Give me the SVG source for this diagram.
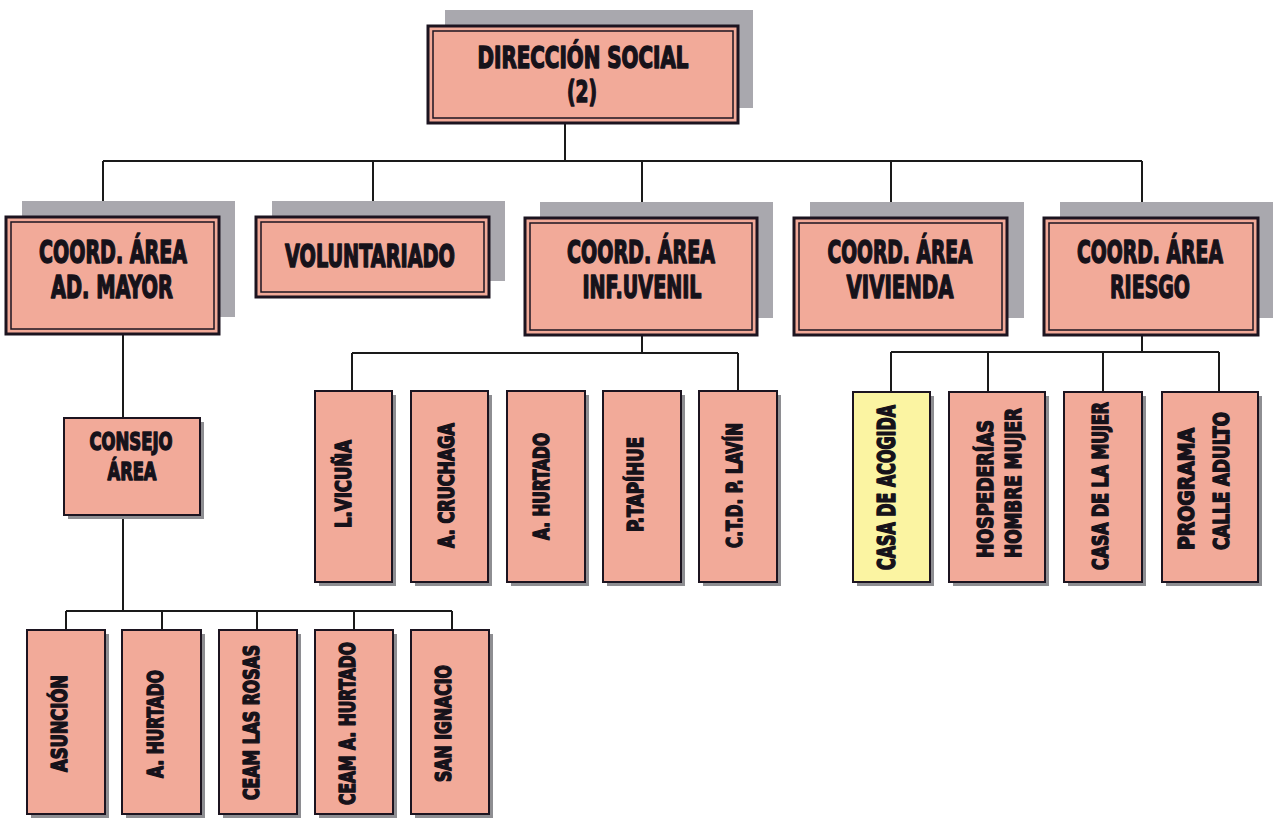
<svg xmlns="http://www.w3.org/2000/svg" width="1275" height="818" viewBox="0 0 1275 818">
<style>
.bg{fill:#ffffff}
.sh{fill:#a9a8ae}
.ssh{fill:#8e8e92}
.pk{fill:#f2aa99}
.yl{fill:#fbf4a2}
.ob{fill:none;stroke:#1c1420;stroke-width:3}
.ib{fill:none;stroke:#1c1420;stroke-width:1.5}
.sb{stroke:#1c1420;stroke-width:2}
.t{font-family:"Liberation Sans Narrow","DejaVu Sans Condensed","DejaVu Sans",sans-serif;font-weight:bold;fill:#16121a;stroke:#16121a;stroke-width:1.5;stroke-linejoin:round;text-anchor:middle}
.h1{font-size:30px}
.h2{font-size:32px}
.h3{font-size:25px}
.v{font-size:22px}
.vb{font-size:24px}
.vs{text-anchor:start}
.c{fill:none;stroke:#1a1a1a;stroke-width:2}
</style>
<rect class="bg" x="0" y="0" width="1275" height="818"/>

<g id="connectors">
<path class="c" d="M565 123V161M103 161H1142M103 161V217M373 161V217M642 161V217M891 161V217M1142 161V217"/>
<path class="c" d="M123 334V418M123 515V611M66 611H452M66 611V630M162 611V630M257 611V630M354 611V630M452 611V630"/>
<path class="c" d="M642 335V353M352 353H738M352 353V391M738 353V391"/>
<path class="c" d="M1142 335V352M891 352H1219M891 352V392M988 352V392M1103 352V392M1219 352V392"/>
</g>

<g id="n-direccion">
<rect class="sh" x="445" y="10" width="308" height="98"/>
<rect class="pk" x="428" y="26" width="310" height="97"/>
<rect class="ob" x="428" y="26" width="310" height="97"/>
<rect class="ib" x="433" y="31" width="300" height="87"/>
<text class="t h1" x="583" y="68" textLength="211" lengthAdjust="spacingAndGlyphs">DIRECCIÓN SOCIAL</text>
<text class="t h1" x="582" y="102" textLength="30" lengthAdjust="spacingAndGlyphs">(2)</text>
</g>

<g id="n-admayor">
<rect class="sh" x="22" y="201" width="213" height="116"/>
<rect class="pk" x="6" y="217" width="213" height="117"/>
<rect class="ob" x="6" y="217" width="213" height="117"/>
<rect class="ib" x="11" y="222" width="203" height="107"/>
<text class="t h2" x="113" y="263" textLength="148" lengthAdjust="spacingAndGlyphs">COORD. ÁREA</text>
<text class="t h2" x="112" y="298" textLength="122" lengthAdjust="spacingAndGlyphs">AD. MAYOR</text>
</g>

<g id="n-voluntariado">
<rect class="sh" x="272" y="201" width="233" height="80"/>
<rect class="pk" x="256" y="217" width="233" height="80"/>
<rect class="ob" x="256" y="217" width="233" height="80"/>
<rect class="ib" x="261" y="222" width="223" height="70"/>
<text class="t h2" x="370" y="267" textLength="170" lengthAdjust="spacingAndGlyphs">VOLUNTARIADO</text>
</g>

<g id="n-infjuvenil">
<rect class="sh" x="540" y="202" width="233" height="116"/>
<rect class="pk" x="525" y="218" width="232" height="117"/>
<rect class="ob" x="525" y="218" width="232" height="117"/>
<rect class="ib" x="530" y="223" width="222" height="107"/>
<text class="t h2" x="641" y="263" textLength="148" lengthAdjust="spacingAndGlyphs">COORD. ÁREA</text>
<text class="t h2" x="642" y="298" textLength="119" lengthAdjust="spacingAndGlyphs">INF.UVENIL</text>
</g>

<g id="n-vivienda">
<rect class="sh" x="810" y="202" width="214" height="116"/>
<rect class="pk" x="794" y="218" width="213" height="117"/>
<rect class="ob" x="794" y="218" width="213" height="117"/>
<rect class="ib" x="799" y="223" width="203" height="107"/>
<text class="t h2" x="900" y="263" textLength="145" lengthAdjust="spacingAndGlyphs">COORD. ÁREA</text>
<text class="t h2" x="900" y="298" textLength="107" lengthAdjust="spacingAndGlyphs">VIVIENDA</text>
</g>

<g id="n-riesgo">
<rect class="sh" x="1060" y="202" width="213" height="116"/>
<rect class="pk" x="1044" y="218" width="214" height="117"/>
<rect class="ob" x="1044" y="218" width="214" height="117"/>
<rect class="ib" x="1049" y="223" width="204" height="107"/>
<text class="t h2" x="1150" y="263" textLength="146" lengthAdjust="spacingAndGlyphs">COORD. ÁREA</text>
<text class="t h2" x="1150" y="298" textLength="80" lengthAdjust="spacingAndGlyphs">RIESGO</text>
</g>

<g id="n-consejo">
<rect class="ssh" x="68" y="422" width="136" height="97"/>
<rect class="pk sb" x="64" y="418" width="136" height="97"/>
<text class="t h3" x="131" y="450" textLength="83" lengthAdjust="spacingAndGlyphs">CONSEJO</text>
<text class="t h3" x="132" y="480" textLength="49" lengthAdjust="spacingAndGlyphs">ÁREA</text>
</g>

<g id="n-vicuna">
<rect class="ssh" x="319" y="395" width="77" height="191"/>
<rect class="pk sb" x="315" y="391" width="77" height="191"/>
<text class="t v" transform="translate(342.5,484) rotate(-90)" y="8" textLength="88" lengthAdjust="spacingAndGlyphs">L.VICUÑA</text>
</g>
<g id="n-cruchaga">
<rect class="ssh" x="415" y="395" width="77" height="191"/>
<rect class="pk sb" x="411" y="391" width="77" height="191"/>
<text class="t v" transform="translate(446,485.5) rotate(-90)" y="8" textLength="125" lengthAdjust="spacingAndGlyphs">A. CRUCHAGA</text>
</g>
<g id="n-hurtado1">
<rect class="ssh" x="511" y="395" width="78" height="191"/>
<rect class="pk sb" x="507" y="391" width="78" height="191"/>
<text class="t v" transform="translate(540.5,486.5) rotate(-90)" y="8" textLength="107" lengthAdjust="spacingAndGlyphs">A. HURTADO</text>
</g>
<g id="n-tapihue">
<rect class="ssh" x="607" y="395" width="78" height="191"/>
<rect class="pk sb" x="603" y="391" width="78" height="191"/>
<text class="t v" transform="translate(635,484.5) rotate(-90)" y="8" textLength="95" lengthAdjust="spacingAndGlyphs">P.TAPÍHUE</text>
</g>
<g id="n-lavin">
<rect class="ssh" x="703" y="395" width="78" height="191"/>
<rect class="pk sb" x="699" y="391" width="78" height="191"/>
<text class="t v" transform="translate(734,485.5) rotate(-90)" y="8" textLength="125" lengthAdjust="spacingAndGlyphs">C.T.D. P. LAVÍN</text>
</g>

<g id="n-acogida">
<rect class="ssh" x="857" y="396" width="77" height="190"/>
<rect class="yl sb" x="853" y="392" width="77" height="190"/>
<text class="t vb" transform="translate(886,487.5) rotate(-90)" y="9" textLength="165" lengthAdjust="spacingAndGlyphs">CASA DE ACOGIDA</text>
</g>
<g id="n-hospederias">
<rect class="ssh" x="953" y="396" width="96" height="190"/>
<rect class="pk sb" x="949" y="392" width="96" height="190"/>
<text class="t v vs" transform="translate(985,558) rotate(-90)" y="8" textLength="138" lengthAdjust="spacingAndGlyphs">HOSPEDERÍAS</text>
<text class="t v vs" transform="translate(1012.5,558) rotate(-90)" y="8" textLength="150" lengthAdjust="spacingAndGlyphs">HOMBRE MUJER</text>
</g>
<g id="n-casamujer">
<rect class="ssh" x="1068" y="396" width="78" height="190"/>
<rect class="pk sb" x="1064" y="392" width="78" height="190"/>
<text class="t v" transform="translate(1100,486) rotate(-90)" y="8" textLength="168" lengthAdjust="spacingAndGlyphs">CASA DE LA MUJER</text>
</g>
<g id="n-programa">
<rect class="ssh" x="1166" y="396" width="96" height="190"/>
<rect class="pk sb" x="1162" y="392" width="96" height="190"/>
<text class="t v vs" transform="translate(1186,550) rotate(-90)" y="8" textLength="122" lengthAdjust="spacingAndGlyphs">PROGRAMA</text>
<text class="t v vs" transform="translate(1221,550) rotate(-90)" y="8" textLength="138" lengthAdjust="spacingAndGlyphs">CALLE ADULTO</text>
</g>

<g id="n-asuncion">
<rect class="ssh" x="31" y="634" width="78" height="184"/>
<rect class="pk sb" x="27" y="630" width="78" height="184"/>
<text class="t v" transform="translate(58.5,723.5) rotate(-90)" y="8" textLength="97" lengthAdjust="spacingAndGlyphs">ASUNCIÓN</text>
</g>
<g id="n-hurtado2">
<rect class="ssh" x="126" y="634" width="79" height="184"/>
<rect class="pk sb" x="122" y="630" width="79" height="184"/>
<text class="t v" transform="translate(155,724) rotate(-90)" y="8" textLength="108" lengthAdjust="spacingAndGlyphs">A. HURTADO</text>
</g>
<g id="n-lasrosas">
<rect class="ssh" x="223" y="634" width="78" height="184"/>
<rect class="pk sb" x="219" y="630" width="78" height="184"/>
<text class="t v" transform="translate(251,722.5) rotate(-90)" y="8" textLength="155" lengthAdjust="spacingAndGlyphs">CEAM LAS ROSAS</text>
</g>
<g id="n-ceamhurtado">
<rect class="ssh" x="319" y="634" width="78" height="184"/>
<rect class="pk sb" x="315" y="630" width="78" height="184"/>
<text class="t v" transform="translate(347,723.5) rotate(-90)" y="8" textLength="163" lengthAdjust="spacingAndGlyphs">CEAM A. HURTADO</text>
</g>
<g id="n-sanignacio">
<rect class="ssh" x="415" y="634" width="78" height="184"/>
<rect class="pk sb" x="411" y="630" width="78" height="184"/>
<text class="t v" transform="translate(443,723.5) rotate(-90)" y="8" textLength="117" lengthAdjust="spacingAndGlyphs">SAN IGNACIO</text>
</g>
</svg>
